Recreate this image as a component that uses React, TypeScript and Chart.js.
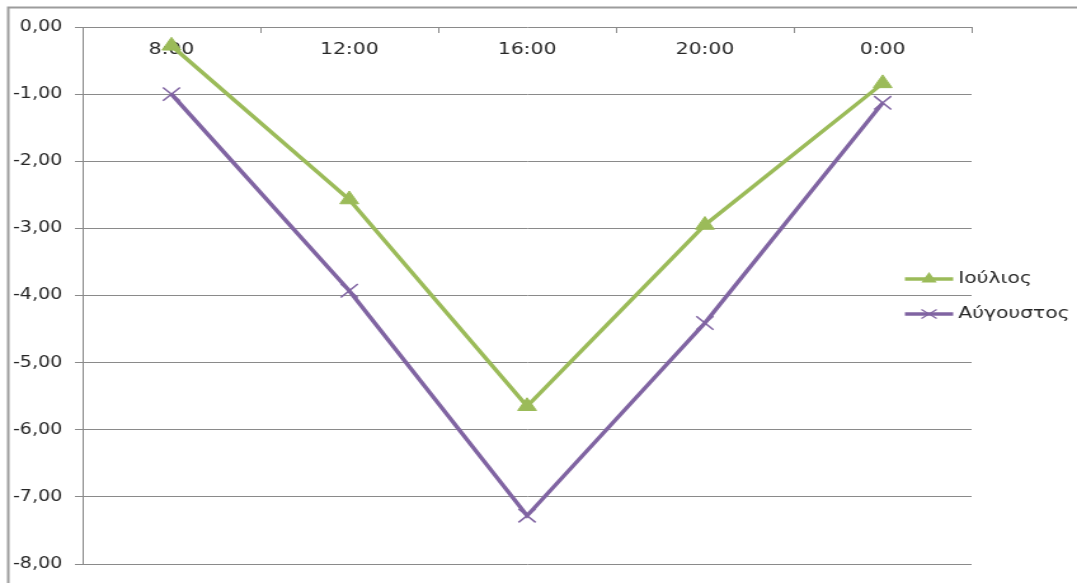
import { useEffect, useRef } from "react";
import { Chart, registerables } from "chart.js";

Chart.register(...registerables);

// Categories and series
const hours = ["8:00", "12:00", "16:00", "20:00", "0:00"];
const julyValues = [-0.28, -2.57, -5.65, -2.95, -0.84];
const augustValues = [-1.0, -3.93, -7.28, -4.41, -1.13];
const seriesNames = ["Ιούλιος", "Αύγουστος"];

// Value axis range
const yMin = -8;
const yMax = 0;
const yStep = 1;

const GREEN = "#9BBB59";
const PURPLE = "#8064A2";
const GRID = "#8a8a8a";
const FRAME = "#9c9c9c";
const TEXT = "#262626";
const FONT = "'DejaVu Sans', Verdana, sans-serif";

// The drawing is made on a narrower canvas and widened by CSS,
// giving the broad, stretched lettering and markers of the chart.
const PAGE_W = 1077;
const PAGE_H = 583;
const STRETCH = 1.27;
const CANVAS_W = Math.round(PAGE_W / STRETCH);

const formatTick = (v: number) => v.toFixed(2).replace(".", ",");

// Category axis drawn along the zero line: boundary ticks and labels below it
const categoryAxisPlugin = {
  id: "categoryAxisAtZero",
  beforeDatasetsDraw(chart: any) {
    const { ctx, scales } = chart;
    const xs = scales.x;
    const ys = scales.y;
    const y0 = ys.getPixelForValue(0);
    const n = hours.length;
    const step = (xs.right - xs.left) / n;
    ctx.save();
    ctx.strokeStyle = GRID;
    ctx.lineWidth = 1;
    ctx.beginPath();
    for (let i = 1; i <= n; i++) {
      const px = Math.round(xs.left + i * step) + 0.5;
      ctx.moveTo(px, y0);
      ctx.lineTo(px, y0 + 6);
    }
    ctx.stroke();
    ctx.fillStyle = TEXT;
    ctx.font = `16px ${FONT}`;
    ctx.textAlign = "center";
    ctx.textBaseline = "middle";
    hours.forEach((h, i) => {
      ctx.fillText(h, xs.getPixelForValue(i), y0 + 23);
    });
    ctx.restore();
  },
};

// Legend on the right: a short line with the series marker, then the name
const sideLegendPlugin = {
  id: "sideLegend",
  afterDraw(chart: any) {
    const { ctx } = chart;
    const rows = [
      { name: seriesNames[0], color: GREEN, marker: "triangle", y: 279 },
      { name: seriesNames[1], color: PURPLE, marker: "cross", y: 314 },
    ];
    const x1 = 712.5;
    const x2 = 750.5;
    const mx = 731.5;
    ctx.save();
    rows.forEach((r) => {
      ctx.strokeStyle = r.color;
      ctx.fillStyle = r.color;
      ctx.lineWidth = 3.5;
      ctx.beginPath();
      ctx.moveTo(x1, r.y);
      ctx.lineTo(x2, r.y);
      ctx.stroke();
      if (r.marker === "triangle") {
        const rad = 7;
        ctx.beginPath();
        ctx.moveTo(mx, r.y - rad);
        ctx.lineTo(mx + rad * 0.866, r.y + rad * 0.5);
        ctx.lineTo(mx - rad * 0.866, r.y + rad * 0.5);
        ctx.closePath();
        ctx.fill();
      } else {
        const d = 6;
        ctx.lineWidth = 1.2;
        ctx.beginPath();
        ctx.moveTo(mx - d, r.y - d * 0.75);
        ctx.lineTo(mx + d, r.y + d * 0.75);
        ctx.moveTo(mx - d, r.y + d * 0.75);
        ctx.lineTo(mx + d, r.y - d * 0.75);
        ctx.stroke();
      }
      ctx.fillStyle = TEXT;
      ctx.font = `16px ${FONT}`;
      ctx.textAlign = "left";
      ctx.textBaseline = "middle";
      ctx.fillText(r.name, 754.5, r.y);
    });
    ctx.restore();
  },
};

// Outer chart frame (top and left edges)
const framePlugin = {
  id: "outerFrame",
  afterDraw(chart: any) {
    const { ctx, height, width } = chart;
    ctx.save();
    ctx.strokeStyle = FRAME;
    ctx.lineWidth = 2;
    ctx.beginPath();
    ctx.moveTo(6.5, height);
    ctx.lineTo(6.5, 7.5);
    ctx.lineTo(width, 7.5);
    ctx.stroke();
    ctx.restore();
  },
};

export default function App() {
  const canvasRef = useRef<HTMLCanvasElement | null>(null);

  useEffect(() => {
    const canvas = canvasRef.current;
    if (!canvas) return;
    const chart = new Chart(canvas, {
      type: "line",
      data: {
        labels: hours,
        datasets: [
          {
            label: seriesNames[0],
            data: julyValues,
            borderColor: GREEN,
            backgroundColor: GREEN,
            borderWidth: 3.5,
            pointStyle: "triangle",
            pointRadius: 8.5,
            pointBorderWidth: 1,
            pointBackgroundColor: GREEN,
            pointBorderColor: GREEN,
            tension: 0,
            clip: false as any,
          },
          {
            label: seriesNames[1],
            data: augustValues,
            borderColor: PURPLE,
            backgroundColor: PURPLE,
            borderWidth: 3.5,
            pointStyle: "crossRot",
            pointRadius: 9.5,
            pointBorderWidth: 1.5,
            pointBackgroundColor: PURPLE,
            pointBorderColor: PURPLE,
            tension: 0,
            clip: false as any,
          },
        ],
      },
      options: {
        responsive: false,
        devicePixelRatio: 1,
        animation: false,
        layout: {
          padding: { top: 27, right: CANVAS_W - 765, bottom: 19, left: 0 },
        },
        plugins: {
          legend: { display: false },
          tooltip: { enabled: false },
        },
        scales: {
          x: {
            type: "category",
            offset: true,
            display: false,
          },
          y: {
            min: yMin,
            max: yMax,
            ticks: {
              stepSize: yStep,
              callback: (v: any) => formatTick(Number(v)),
              font: { family: FONT, size: 15 },
              color: TEXT,
              padding: 10,
            },
            grid: {
              color: GRID,
              lineWidth: 1,
              drawTicks: true,
              tickLength: 6,
            },
            border: { display: true, color: GRID, width: 1 },
            afterFit: (s: any) => {
              s.width = 65;
            },
          },
        },
      },
      plugins: [categoryAxisPlugin, sideLegendPlugin, framePlugin],
    });
    return () => chart.destroy();
  }, []);

  return (
    <div
      style={{
        position: "fixed",
        left: 0,
        top: 0,
        width: PAGE_W,
        height: PAGE_H,
        background: "#ffffff",
      }}
    >
      <canvas
        ref={canvasRef}
        width={CANVAS_W}
        height={PAGE_H}
        style={{ width: `${PAGE_W}px`, height: `${PAGE_H}px`, display: "block" }}
      />
    </div>
  );
}
